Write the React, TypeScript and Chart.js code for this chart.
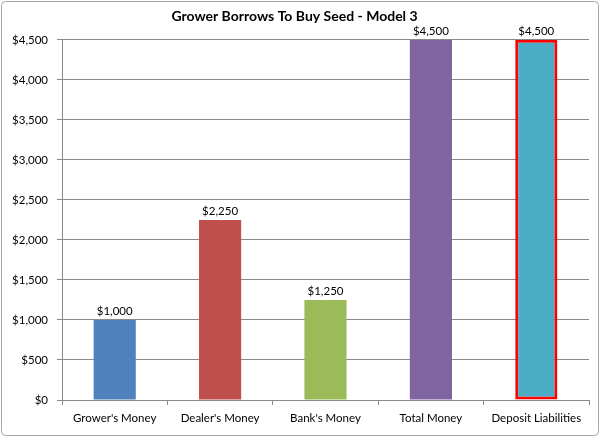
import { useEffect, useRef } from "react";
import { Chart, registerables, type Plugin } from "chart.js";

Chart.register(...registerables);

const CATEGORIES = [
  "Grower's Money",
  "Dealer's Money",
  "Bank's Money",
  "Total Money",
  "Deposit Liabilities",
];
const AMOUNTS = [1000, 2250, 1250, 4500, 4500];
const BAR_COLORS = ["#4F81BD", "#C0504D", "#9BBB59", "#8064A2", "#4BACC6"];
const BAR_BORDERS = [0, 0, 0, 0, 3];
const Y_MAX = 4500;
const Y_STEP = 500;
const TITLE = "Grower Borrows To Buy Seed - Model 3";

const FONT = "Lato, 'Open Sans', sans-serif";

const money = (v: number) => "$" + v.toLocaleString("en-US");

// outer frame like the office chart border
const framePlugin: Plugin<"bar"> = {
  id: "frame",
  beforeDraw(chart) {
    const { ctx, width, height } = chart;
    ctx.save();
    ctx.fillStyle = "#fff";
    ctx.fillRect(0, 0, width, height);
    ctx.strokeStyle = "#a6a6a6";
    ctx.lineWidth = 1;
    ctx.beginPath();
    ctx.roundRect(1.5, 1.5, width - 3, height - 3, 4);
    ctx.stroke();
    ctx.restore();
  },
};

// value labels above each bar
const valueLabels: Plugin<"bar"> = {
  id: "valueLabels",
  afterDatasetsDraw(chart) {
    const { ctx } = chart;
    const meta = chart.getDatasetMeta(0);
    ctx.save();
    ctx.font = `11.5px ${FONT}`;
    ctx.fillStyle = "#000";
    ctx.textAlign = "center";
    ctx.textBaseline = "bottom";
    meta.data.forEach((bar, i) => {
      const { x, y } = bar.getProps(["x", "y"], true) as { x: number; y: number };
      ctx.fillText(money(AMOUNTS[i]), x, y - 3);
    });
    ctx.restore();
  },
};

export default function App() {
  const canvasRef = useRef<HTMLCanvasElement>(null);

  useEffect(() => {
    if (!canvasRef.current) return;
    const chart = new Chart(canvasRef.current, {
      type: "bar",
      data: {
        labels: CATEGORIES,
        datasets: [
          {
            data: AMOUNTS,
            backgroundColor: BAR_COLORS,
            borderColor: "#FF0000",
            borderWidth: BAR_BORDERS,
            borderSkipped: false,
            categoryPercentage: 1,
            barPercentage: 0.4,
          },
        ],
      },
      options: {
        animation: false,
        responsive: false,
        devicePixelRatio: 1,
        layout: { padding: { top: 0, right: 11, bottom: 0, left: 0 } },
        plugins: {
          legend: { display: false },
          tooltip: { enabled: false },
          title: {
            display: true,
            text: TITLE,
            color: "#000",
            font: { family: FONT, size: 14, weight: "bold" },
            padding: { top: 8, bottom: 15 },
          },
        },
        scales: {
          x: {
            grid: {
              offset: true,
              drawOnChartArea: false,
              drawTicks: true,
              tickLength: 5,
              color: "#8a8a8a",
            },
            border: { color: "#8a8a8a" },
            ticks: {
              color: "#000",
              padding: 6,
              font: { family: FONT, size: 11.5 },
            },
            afterFit(scale) {
              scale.height = 37;
            },
          },
          y: {
            min: 0,
            max: Y_MAX,
            ticks: {
              stepSize: Y_STEP,
              color: "#000",
              padding: 9,
              font: { family: FONT, size: 11.5 },
              callback: (v) => money(Number(v)),
            },
            grid: { color: "#8a8a8a", tickLength: 5 },
            border: { color: "#8a8a8a" },
            afterFit(scale) {
              scale.width = 62;
            },
          },
        },
      },
      plugins: [framePlugin, valueLabels],
    });
    return () => chart.destroy();
  }, []);

  return (
    <div style={{ position: "fixed", left: 0, top: 0, width: 600, height: 437 }}>
      <canvas ref={canvasRef} width={600} height={437} />
    </div>
  );
}
